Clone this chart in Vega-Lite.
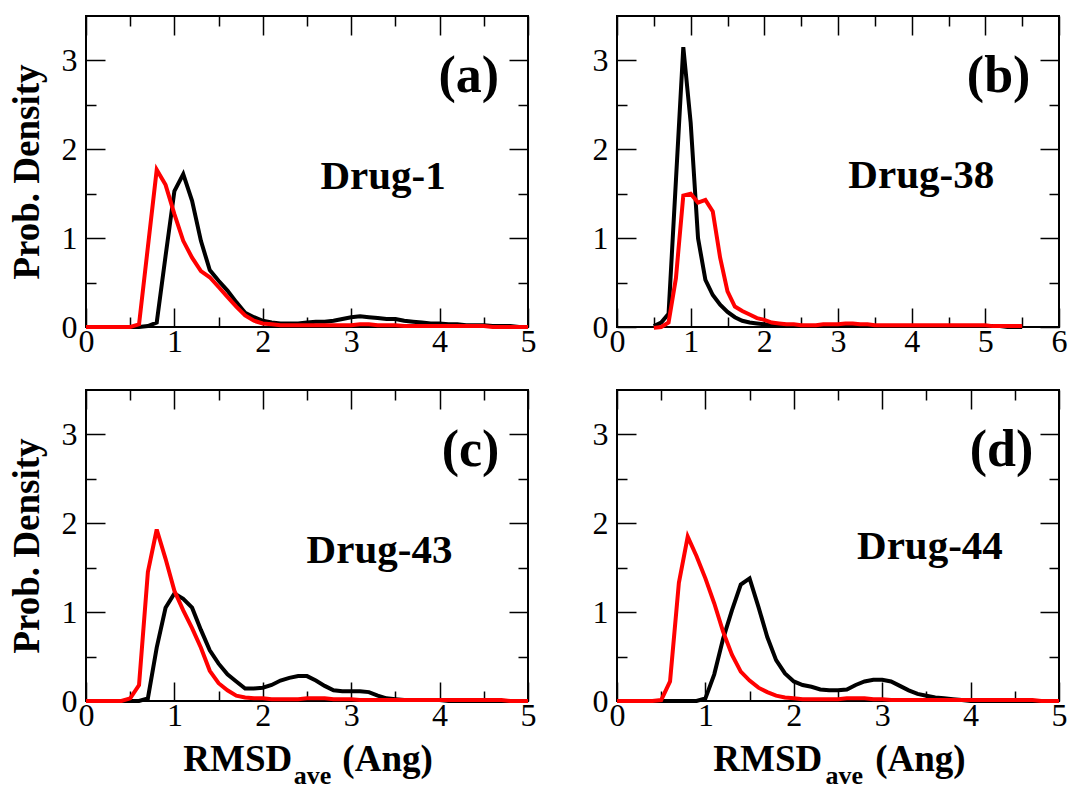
{
  "$schema": "https://vega.github.io/schema/vega-lite/v6.json",
  "padding": {"left": 6, "top": 14, "right": 0, "bottom": 0},
  "background": "white",
  "datasets": {
    "a": [
      {"x":0.0,"black":0,"red":0},{"x":0.1,"black":0,"red":0},{"x":0.2,"black":0,"red":0},{"x":0.3,"black":0,"red":0},{"x":0.4,"black":0,"red":0},{"x":0.5,"black":0,"red":0},
      {"x":0.6,"black":0,"red":0.03},{"x":0.7,"black":0.01,"red":0.9},{"x":0.8,"black":0.05,"red":1.77},{"x":0.9,"black":0.8,"red":1.6},
      {"x":1.0,"black":1.53,"red":1.27},{"x":1.1,"black":1.72,"red":0.97},{"x":1.2,"black":1.42,"red":0.78},{"x":1.3,"black":0.97,"red":0.63},
      {"x":1.4,"black":0.64,"red":0.56},{"x":1.5,"black":0.52,"red":0.45},{"x":1.6,"black":0.41,"red":0.34},{"x":1.7,"black":0.28,"red":0.23},
      {"x":1.8,"black":0.16,"red":0.13},{"x":1.9,"black":0.11,"red":0.07},{"x":2.0,"black":0.07,"red":0.04},{"x":2.1,"black":0.05,"red":0.03},
      {"x":2.2,"black":0.04,"red":0.02},{"x":2.3,"black":0.04,"red":0.02},{"x":2.4,"black":0.04,"red":0.02},{"x":2.5,"black":0.05,"red":0.02},
      {"x":2.6,"black":0.06,"red":0.02},{"x":2.7,"black":0.06,"red":0.02},{"x":2.8,"black":0.07,"red":0.02},{"x":2.9,"black":0.09,"red":0.02},
      {"x":3.0,"black":0.11,"red":0.02},{"x":3.1,"black":0.12,"red":0.03},{"x":3.2,"black":0.11,"red":0.03},{"x":3.3,"black":0.1,"red":0.02},
      {"x":3.4,"black":0.09,"red":0.02},{"x":3.5,"black":0.09,"red":0.02},{"x":3.6,"black":0.07,"red":0.01},{"x":3.7,"black":0.06,"red":0.01},
      {"x":3.8,"black":0.05,"red":0.01},{"x":3.9,"black":0.04,"red":0.01},{"x":4.0,"black":0.04,"red":0.01},{"x":4.1,"black":0.03,"red":0.01},
      {"x":4.2,"black":0.03,"red":0.01},{"x":4.3,"black":0.02,"red":0.01},{"x":4.4,"black":0.02,"red":0.01},{"x":4.5,"black":0.02,"red":0.01},
      {"x":4.6,"black":0.01,"red":0},{"x":4.7,"black":0.01,"red":0},{"x":4.8,"black":0.01,"red":0},{"x":4.9,"black":0,"red":0},{"x":5.0,"black":0,"red":0}
    ],
    "b": [
      {"x":0.5,"black":0.01,"red":-0.01},{"x":0.6,"black":0.05,"red":0},{"x":0.7,"black":0.15,"red":0.05},{"x":0.8,"black":1.65,"red":0.55},
      {"x":0.9,"black":3.15,"red":1.48},{"x":1.0,"black":2.3,"red":1.5},{"x":1.1,"black":1.0,"red":1.4},{"x":1.2,"black":0.53,"red":1.43},
      {"x":1.3,"black":0.36,"red":1.3},{"x":1.4,"black":0.25,"red":0.78},{"x":1.5,"black":0.17,"red":0.4},{"x":1.6,"black":0.11,"red":0.23},
      {"x":1.7,"black":0.07,"red":0.18},{"x":1.8,"black":0.05,"red":0.14},{"x":1.9,"black":0.04,"red":0.1},{"x":2.0,"black":0.03,"red":0.08},
      {"x":2.1,"black":0.02,"red":0.05},{"x":2.2,"black":0.02,"red":0.04},{"x":2.3,"black":0.01,"red":0.03},{"x":2.4,"black":0.01,"red":0.03},
      {"x":2.5,"black":0.01,"red":0.02},{"x":2.6,"black":0.01,"red":0.02},{"x":2.7,"black":0.01,"red":0.02},{"x":2.8,"black":0.01,"red":0.03},
      {"x":2.9,"black":0.01,"red":0.03},{"x":3.0,"black":0.01,"red":0.03},{"x":3.1,"black":0.01,"red":0.04},{"x":3.2,"black":0.01,"red":0.04},
      {"x":3.3,"black":0.01,"red":0.03},{"x":3.4,"black":0.01,"red":0.03},{"x":3.5,"black":0.01,"red":0.02},{"x":3.6,"black":0.01,"red":0.02},
      {"x":3.7,"black":0.01,"red":0.02},{"x":3.8,"black":0.01,"red":0.02},{"x":3.9,"black":0.01,"red":0.02},{"x":4.0,"black":0.01,"red":0.02},
      {"x":4.1,"black":0.01,"red":0.02},{"x":4.2,"black":0.01,"red":0.02},{"x":4.3,"black":0.01,"red":0.02},{"x":4.4,"black":0.01,"red":0.02},
      {"x":4.5,"black":0.01,"red":0.02},{"x":4.6,"black":0.01,"red":0.02},{"x":4.7,"black":0.01,"red":0.02},{"x":4.8,"black":0.01,"red":0.02},
      {"x":4.9,"black":0.01,"red":0.02},{"x":5.0,"black":0.01,"red":0.02},{"x":5.1,"black":0.01,"red":0.01},{"x":5.2,"black":0.01,"red":0.01},
      {"x":5.3,"black":0,"red":0.01},{"x":5.4,"black":0,"red":0.01},{"x":5.5,"black":0,"red":0.01}
    ],
    "c": [
      {"x":0.0,"black":0,"red":0},{"x":0.1,"black":0,"red":0},{"x":0.2,"black":0,"red":0},{"x":0.3,"black":0,"red":0},{"x":0.4,"black":0,"red":0},
      {"x":0.5,"black":0,"red":0.03},{"x":0.6,"black":0,"red":0.18},{"x":0.7,"black":0.03,"red":1.45},{"x":0.8,"black":0.6,"red":1.93},
      {"x":0.9,"black":1.05,"red":1.6},{"x":1.0,"black":1.21,"red":1.24},{"x":1.1,"black":1.15,"red":1.02},{"x":1.2,"black":1.05,"red":0.82},
      {"x":1.3,"black":0.8,"red":0.6},{"x":1.4,"black":0.57,"red":0.34},{"x":1.5,"black":0.42,"red":0.2},{"x":1.6,"black":0.3,"red":0.12},
      {"x":1.7,"black":0.22,"red":0.06},{"x":1.8,"black":0.14,"red":0.04},{"x":1.9,"black":0.14,"red":0.03},{"x":2.0,"black":0.15,"red":0.03},
      {"x":2.1,"black":0.18,"red":0.02},{"x":2.2,"black":0.23,"red":0.02},{"x":2.3,"black":0.26,"red":0.02},{"x":2.4,"black":0.28,"red":0.02},
      {"x":2.5,"black":0.28,"red":0.03},{"x":2.6,"black":0.23,"red":0.03},{"x":2.7,"black":0.17,"red":0.03},{"x":2.8,"black":0.12,"red":0.02},
      {"x":2.9,"black":0.11,"red":0.02},{"x":3.0,"black":0.11,"red":0.02},{"x":3.1,"black":0.11,"red":0.01},{"x":3.2,"black":0.1,"red":0.01},
      {"x":3.3,"black":0.06,"red":0.01},{"x":3.4,"black":0.03,"red":0.01},{"x":3.5,"black":0.02,"red":0.01},{"x":3.6,"black":0.01,"red":0.01},
      {"x":3.7,"black":0.01,"red":0.01},{"x":3.8,"black":0.01,"red":0.01},{"x":3.9,"black":0.01,"red":0.01},{"x":4.0,"black":0.01,"red":0.01},
      {"x":4.1,"black":0,"red":0.01},{"x":4.2,"black":0,"red":0.01},{"x":4.3,"black":0,"red":0.01},{"x":4.4,"black":0,"red":0.01},
      {"x":4.5,"black":0,"red":0.01},{"x":4.6,"black":0,"red":0.01},{"x":4.7,"black":0,"red":0.01},{"x":4.8,"black":0,"red":0},
      {"x":4.9,"black":0,"red":0},{"x":5.0,"black":0,"red":0}
    ],
    "d": [
      {"x":0.0,"black":0,"red":0},{"x":0.1,"black":0,"red":0},{"x":0.2,"black":0,"red":0},{"x":0.3,"black":0,"red":0},{"x":0.4,"black":0,"red":0},
      {"x":0.5,"black":0,"red":0.01},{"x":0.6,"black":0,"red":0.22},{"x":0.7,"black":0,"red":1.33},{"x":0.8,"black":0,"red":1.85},
      {"x":0.9,"black":0,"red":1.63},{"x":1.0,"black":0.03,"red":1.38},{"x":1.1,"black":0.3,"red":1.1},{"x":1.2,"black":0.7,"red":0.78},
      {"x":1.3,"black":1.02,"red":0.52},{"x":1.4,"black":1.31,"red":0.33},{"x":1.5,"black":1.38,"red":0.23},{"x":1.6,"black":1.06,"red":0.15},
      {"x":1.7,"black":0.72,"red":0.1},{"x":1.8,"black":0.46,"red":0.06},{"x":1.9,"black":0.31,"red":0.04},{"x":2.0,"black":0.22,"red":0.03},
      {"x":2.1,"black":0.18,"red":0.02},{"x":2.2,"black":0.16,"red":0.02},{"x":2.3,"black":0.13,"red":0.02},{"x":2.4,"black":0.12,"red":0.02},
      {"x":2.5,"black":0.12,"red":0.02},{"x":2.6,"black":0.13,"red":0.03},{"x":2.7,"black":0.18,"red":0.03},{"x":2.8,"black":0.22,"red":0.03},
      {"x":2.9,"black":0.24,"red":0.02},{"x":3.0,"black":0.24,"red":0.02},{"x":3.1,"black":0.22,"red":0.01},{"x":3.2,"black":0.17,"red":0.01},
      {"x":3.3,"black":0.12,"red":0.01},{"x":3.4,"black":0.08,"red":0.01},{"x":3.5,"black":0.06,"red":0.01},{"x":3.6,"black":0.04,"red":0.01},
      {"x":3.7,"black":0.03,"red":0.01},{"x":3.8,"black":0.02,"red":0.01},{"x":3.9,"black":0.01,"red":0.01},{"x":4.0,"black":0,"red":0.01},
      {"x":4.1,"black":0,"red":0.01},{"x":4.2,"black":0,"red":0.01},{"x":4.3,"black":0,"red":0.01},{"x":4.4,"black":0,"red":0.01},
      {"x":4.5,"black":0,"red":0.01},{"x":4.6,"black":0,"red":0.01},{"x":4.7,"black":0,"red":0.01},{"x":4.8,"black":0,"red":0},
      {"x":4.9,"black":0,"red":0},{"x":5.0,"black":0,"red":0}
    ]
  },
  "columns": 2,
  "spacing": {"row": 63, "column": 89},
  "bounds": "flush",
  "concat": [
    {
      "width": 442, "height": 311,
      "data": {"name": "a"},
      "layer": [
        {"mark": {"type": "line", "color": "black"},
         "encoding": {
           "x": {"field": "x", "type": "quantitative", "scale": {"domain": [0, 5], "nice": false, "zero": false},
                 "axis": {"orient": "bottom", "values": [0,0.5,1,1.5,2,2.5,3,3.5,4,4.5,5], "labelExpr": "datum.value % 1 === 0 ? '' + datum.value : ''", "tickSize": {"condition": {"test": "datum.value % 1 !== 0", "value": -10}, "value": -19}, "labelPadding": 18, "labelFlush": false, "labelOverlap": false, "labelBound": false, "title": null}},
           "y": {"field": "black", "type": "quantitative", "scale": {"domain": [0, 3.5], "nice": false, "zero": false},
                 "axis": {"orient": "left", "values": [0,0.5,1,1.5,2,2.5,3], "labelExpr": "datum.value % 1 === 0 ? '' + datum.value : ''", "tickSize": {"condition": {"test": "datum.value % 1 !== 0", "value": -10}, "value": -19}, "labelPadding": 28, "labelFlush": false, "labelOverlap": false, "labelBound": false, "title": "Prob. Density", "titleX": -40}}
         }},
        {"mark": {"type": "line", "color": "red"},
         "encoding": {
           "x": {"field": "x", "type": "quantitative", "scale": {"domain": [0, 5], "nice": false, "zero": false}, "axis": null},
           "y": {"field": "red", "type": "quantitative", "scale": {"domain": [0, 3.5], "nice": false, "zero": false}, "axis": null}
         }},
        {"mark": {"type": "line", "opacity": 0},
         "encoding": {
           "x": {"field": "x", "type": "quantitative", "scale": {"domain": [0, 5], "nice": false, "zero": false},
                 "axis": {"orient": "top", "values": [0,0.5,1,1.5,2,2.5,3,3.5,4,4.5,5], "labels": false, "tickSize": {"condition": {"test": "datum.value % 1 !== 0", "value": -10}, "value": -19}, "title": null}},
           "y": {"field": "black", "type": "quantitative", "scale": {"domain": [0, 3.5], "nice": false, "zero": false},
                 "axis": {"orient": "right", "values": [0,0.5,1,1.5,2,2.5,3], "labels": false, "tickSize": {"condition": {"test": "datum.value % 1 !== 0", "value": -10}, "value": -19}, "title": null}}
         }},
        {"data": {"values": [{}]},
         "mark": {"type": "text", "fontSize": 52, "align": "center", "baseline": "alphabetic"},
         "encoding": {
           "x": {"datum": 4.33, "type": "quantitative", "scale": {"domain": [0, 5], "nice": false, "zero": false}, "axis": null},
           "y": {"datum": 2.65, "type": "quantitative", "scale": {"domain": [0, 3.5], "nice": false, "zero": false}, "axis": null},
           "text": {"value": "(a)"}
         }},
        {"data": {"values": [{}]},
         "mark": {"type": "text", "fontSize": 41, "align": "center", "baseline": "alphabetic"},
         "encoding": {
           "x": {"datum": 3.36, "type": "quantitative", "scale": {"domain": [0, 5], "nice": false, "zero": false}, "axis": null},
           "y": {"datum": 1.55, "type": "quantitative", "scale": {"domain": [0, 3.5], "nice": false, "zero": false}, "axis": null},
           "text": {"value": "Drug-1"}
         }}
      ],
      "resolve": {"axis": {"x": "independent", "y": "independent"}}
    },
    {
      "width": 442, "height": 311,
      "data": {"name": "b"},
      "layer": [
        {"mark": {"type": "line", "color": "black"},
         "encoding": {
           "x": {"field": "x", "type": "quantitative", "scale": {"domain": [0, 6], "nice": false, "zero": false},
                 "axis": {"orient": "bottom", "values": [0,0.5,1,1.5,2,2.5,3,3.5,4,4.5,5,5.5,6], "labelExpr": "datum.value % 1 === 0 ? '' + datum.value : ''", "tickSize": {"condition": {"test": "datum.value % 1 !== 0", "value": -10}, "value": -19}, "labelPadding": 18, "labelFlush": false, "labelOverlap": false, "labelBound": false, "title": null}},
           "y": {"field": "black", "type": "quantitative", "scale": {"domain": [0, 3.5], "nice": false, "zero": false},
                 "axis": {"orient": "left", "values": [0,0.5,1,1.5,2,2.5,3], "labelExpr": "datum.value % 1 === 0 ? '' + datum.value : ''", "tickSize": {"condition": {"test": "datum.value % 1 !== 0", "value": -10}, "value": -19}, "labelPadding": 28, "labelFlush": false, "labelOverlap": false, "labelBound": false, "title": null}}
         }},
        {"mark": {"type": "line", "color": "red"},
         "encoding": {
           "x": {"field": "x", "type": "quantitative", "scale": {"domain": [0, 6], "nice": false, "zero": false}, "axis": null},
           "y": {"field": "red", "type": "quantitative", "scale": {"domain": [0, 3.5], "nice": false, "zero": false}, "axis": null}
         }},
        {"mark": {"type": "line", "opacity": 0},
         "encoding": {
           "x": {"field": "x", "type": "quantitative", "scale": {"domain": [0, 6], "nice": false, "zero": false},
                 "axis": {"orient": "top", "values": [0,0.5,1,1.5,2,2.5,3,3.5,4,4.5,5,5.5,6], "labels": false, "tickSize": {"condition": {"test": "datum.value % 1 !== 0", "value": -10}, "value": -19}, "title": null}},
           "y": {"field": "black", "type": "quantitative", "scale": {"domain": [0, 3.5], "nice": false, "zero": false},
                 "axis": {"orient": "right", "values": [0,0.5,1,1.5,2,2.5,3], "labels": false, "tickSize": {"condition": {"test": "datum.value % 1 !== 0", "value": -10}, "value": -19}, "title": null}}
         }},
        {"data": {"values": [{}]},
         "mark": {"type": "text", "fontSize": 52, "align": "center", "baseline": "alphabetic"},
         "encoding": {
           "x": {"datum": 5.18, "type": "quantitative", "scale": {"domain": [0, 6], "nice": false, "zero": false}, "axis": null},
           "y": {"datum": 2.65, "type": "quantitative", "scale": {"domain": [0, 3.5], "nice": false, "zero": false}, "axis": null},
           "text": {"value": "(b)"}
         }},
        {"data": {"values": [{}]},
         "mark": {"type": "text", "fontSize": 41, "align": "center", "baseline": "alphabetic"},
         "encoding": {
           "x": {"datum": 4.13, "type": "quantitative", "scale": {"domain": [0, 6], "nice": false, "zero": false}, "axis": null},
           "y": {"datum": 1.56, "type": "quantitative", "scale": {"domain": [0, 3.5], "nice": false, "zero": false}, "axis": null},
           "text": {"value": "Drug-38"}
         }}
      ],
      "resolve": {"axis": {"x": "independent", "y": "independent"}}
    },
    {
      "width": 442, "height": 311,
      "data": {"name": "c"},
      "layer": [
        {"mark": {"type": "line", "color": "black"},
         "encoding": {
           "x": {"field": "x", "type": "quantitative", "scale": {"domain": [0, 5], "nice": false, "zero": false},
                 "axis": {"orient": "bottom", "values": [0,0.5,1,1.5,2,2.5,3,3.5,4,4.5,5], "labelExpr": "datum.value % 1 === 0 ? '' + datum.value : ''", "tickSize": {"condition": {"test": "datum.value % 1 !== 0", "value": -10}, "value": -19}, "labelPadding": 18, "labelFlush": false, "labelOverlap": false, "labelBound": false, "title": null}},
           "y": {"field": "black", "type": "quantitative", "scale": {"domain": [0, 3.5], "nice": false, "zero": false},
                 "axis": {"orient": "left", "values": [0,0.5,1,1.5,2,2.5,3], "labelExpr": "datum.value % 1 === 0 ? '' + datum.value : ''", "tickSize": {"condition": {"test": "datum.value % 1 !== 0", "value": -10}, "value": -19}, "labelPadding": 28, "labelFlush": false, "labelOverlap": false, "labelBound": false, "title": "Prob. Density", "titleX": -40}}
         }},
        {"mark": {"type": "line", "color": "red"},
         "encoding": {
           "x": {"field": "x", "type": "quantitative", "scale": {"domain": [0, 5], "nice": false, "zero": false}, "axis": null},
           "y": {"field": "red", "type": "quantitative", "scale": {"domain": [0, 3.5], "nice": false, "zero": false}, "axis": null}
         }},
        {"mark": {"type": "line", "opacity": 0},
         "encoding": {
           "x": {"field": "x", "type": "quantitative", "scale": {"domain": [0, 5], "nice": false, "zero": false},
                 "axis": {"orient": "top", "values": [0,0.5,1,1.5,2,2.5,3,3.5,4,4.5,5], "labels": false, "tickSize": {"condition": {"test": "datum.value % 1 !== 0", "value": -10}, "value": -19}, "title": null}},
           "y": {"field": "black", "type": "quantitative", "scale": {"domain": [0, 3.5], "nice": false, "zero": false},
                 "axis": {"orient": "right", "values": [0,0.5,1,1.5,2,2.5,3], "labels": false, "tickSize": {"condition": {"test": "datum.value % 1 !== 0", "value": -10}, "value": -19}, "title": null}}
         }},
        {"data": {"values": [{}]},
         "mark": {"type": "text", "fontSize": 52, "align": "center", "baseline": "alphabetic"},
         "encoding": {
           "x": {"datum": 4.35, "type": "quantitative", "scale": {"domain": [0, 5], "nice": false, "zero": false}, "axis": null},
           "y": {"datum": 2.65, "type": "quantitative", "scale": {"domain": [0, 3.5], "nice": false, "zero": false}, "axis": null},
           "text": {"value": "(c)"}
         }},
        {"data": {"values": [{}]},
         "mark": {"type": "text", "fontSize": 41, "align": "center", "baseline": "alphabetic"},
         "encoding": {
           "x": {"datum": 3.32, "type": "quantitative", "scale": {"domain": [0, 5], "nice": false, "zero": false}, "axis": null},
           "y": {"datum": 1.55, "type": "quantitative", "scale": {"domain": [0, 3.5], "nice": false, "zero": false}, "axis": null},
           "text": {"value": "Drug-43"}
         }},
        {"data": {"values": [{}]},
         "mark": {"type": "text", "fontSize": 37, "align": "left", "baseline": "alphabetic"},
         "encoding": {
           "x": {"datum": 1.1, "type": "quantitative", "scale": {"domain": [0, 5], "nice": false, "zero": false}, "axis": null},
           "y": {"datum": -0.79, "type": "quantitative", "scale": {"domain": [0, 3.5], "nice": false, "zero": false}, "axis": null},
           "text": {"value": "RMSD"}
         }},
        {"data": {"values": [{}]},
         "mark": {"type": "text", "fontSize": 26, "align": "left", "baseline": "alphabetic"},
         "encoding": {
           "x": {"datum": 2.35, "type": "quantitative", "scale": {"domain": [0, 5], "nice": false, "zero": false}, "axis": null},
           "y": {"datum": -0.93, "type": "quantitative", "scale": {"domain": [0, 3.5], "nice": false, "zero": false}, "axis": null},
           "text": {"value": "ave"}
         }},
        {"data": {"values": [{}]},
         "mark": {"type": "text", "fontSize": 37, "align": "left", "baseline": "alphabetic"},
         "encoding": {
           "x": {"datum": 2.9, "type": "quantitative", "scale": {"domain": [0, 5], "nice": false, "zero": false}, "axis": null},
           "y": {"datum": -0.79, "type": "quantitative", "scale": {"domain": [0, 3.5], "nice": false, "zero": false}, "axis": null},
           "text": {"value": "(Ang)"}
         }}
      ],
      "resolve": {"axis": {"x": "independent", "y": "independent"}}
    },
    {
      "width": 442, "height": 311,
      "data": {"name": "d"},
      "layer": [
        {"mark": {"type": "line", "color": "black"},
         "encoding": {
           "x": {"field": "x", "type": "quantitative", "scale": {"domain": [0, 5], "nice": false, "zero": false},
                 "axis": {"orient": "bottom", "values": [0,0.5,1,1.5,2,2.5,3,3.5,4,4.5,5], "labelExpr": "datum.value % 1 === 0 ? '' + datum.value : ''", "tickSize": {"condition": {"test": "datum.value % 1 !== 0", "value": -10}, "value": -19}, "labelPadding": 18, "labelFlush": false, "labelOverlap": false, "labelBound": false, "title": null}},
           "y": {"field": "black", "type": "quantitative", "scale": {"domain": [0, 3.5], "nice": false, "zero": false},
                 "axis": {"orient": "left", "values": [0,0.5,1,1.5,2,2.5,3], "labelExpr": "datum.value % 1 === 0 ? '' + datum.value : ''", "tickSize": {"condition": {"test": "datum.value % 1 !== 0", "value": -10}, "value": -19}, "labelPadding": 28, "labelFlush": false, "labelOverlap": false, "labelBound": false, "title": null}}
         }},
        {"mark": {"type": "line", "color": "red"},
         "encoding": {
           "x": {"field": "x", "type": "quantitative", "scale": {"domain": [0, 5], "nice": false, "zero": false}, "axis": null},
           "y": {"field": "red", "type": "quantitative", "scale": {"domain": [0, 3.5], "nice": false, "zero": false}, "axis": null}
         }},
        {"mark": {"type": "line", "opacity": 0},
         "encoding": {
           "x": {"field": "x", "type": "quantitative", "scale": {"domain": [0, 5], "nice": false, "zero": false},
                 "axis": {"orient": "top", "values": [0,0.5,1,1.5,2,2.5,3,3.5,4,4.5,5], "labels": false, "tickSize": {"condition": {"test": "datum.value % 1 !== 0", "value": -10}, "value": -19}, "title": null}},
           "y": {"field": "black", "type": "quantitative", "scale": {"domain": [0, 3.5], "nice": false, "zero": false},
                 "axis": {"orient": "right", "values": [0,0.5,1,1.5,2,2.5,3], "labels": false, "tickSize": {"condition": {"test": "datum.value % 1 !== 0", "value": -10}, "value": -19}, "title": null}}
         }},
        {"data": {"values": [{}]},
         "mark": {"type": "text", "fontSize": 52, "align": "center", "baseline": "alphabetic"},
         "encoding": {
           "x": {"datum": 4.35, "type": "quantitative", "scale": {"domain": [0, 5], "nice": false, "zero": false}, "axis": null},
           "y": {"datum": 2.65, "type": "quantitative", "scale": {"domain": [0, 3.5], "nice": false, "zero": false}, "axis": null},
           "text": {"value": "(d)"}
         }},
        {"data": {"values": [{}]},
         "mark": {"type": "text", "fontSize": 41, "align": "center", "baseline": "alphabetic"},
         "encoding": {
           "x": {"datum": 3.54, "type": "quantitative", "scale": {"domain": [0, 5], "nice": false, "zero": false}, "axis": null},
           "y": {"datum": 1.6, "type": "quantitative", "scale": {"domain": [0, 3.5], "nice": false, "zero": false}, "axis": null},
           "text": {"value": "Drug-44"}
         }},
        {"data": {"values": [{}]},
         "mark": {"type": "text", "fontSize": 37, "align": "left", "baseline": "alphabetic"},
         "encoding": {
           "x": {"datum": 1.09, "type": "quantitative", "scale": {"domain": [0, 5], "nice": false, "zero": false}, "axis": null},
           "y": {"datum": -0.79, "type": "quantitative", "scale": {"domain": [0, 3.5], "nice": false, "zero": false}, "axis": null},
           "text": {"value": "RMSD"}
         }},
        {"data": {"values": [{}]},
         "mark": {"type": "text", "fontSize": 26, "align": "left", "baseline": "alphabetic"},
         "encoding": {
           "x": {"datum": 2.36, "type": "quantitative", "scale": {"domain": [0, 5], "nice": false, "zero": false}, "axis": null},
           "y": {"datum": -0.93, "type": "quantitative", "scale": {"domain": [0, 3.5], "nice": false, "zero": false}, "axis": null},
           "text": {"value": "ave"}
         }},
        {"data": {"values": [{}]},
         "mark": {"type": "text", "fontSize": 37, "align": "left", "baseline": "alphabetic"},
         "encoding": {
           "x": {"datum": 2.92, "type": "quantitative", "scale": {"domain": [0, 5], "nice": false, "zero": false}, "axis": null},
           "y": {"datum": -0.79, "type": "quantitative", "scale": {"domain": [0, 3.5], "nice": false, "zero": false}, "axis": null},
           "text": {"value": "(Ang)"}
         }}
      ],
      "resolve": {"axis": {"x": "independent", "y": "independent"}}
    }
  ],
  "config": {
    "view": {"stroke": "black", "strokeWidth": 2},
    "axis": {"domain": false, "grid": false, "tickColor": "black", "tickWidth": 1.5, "labelFont": "Liberation Serif, Times New Roman, Times, serif", "labelFontSize": 32, "labelColor": "black", "titleFont": "Liberation Serif, Times New Roman, Times, serif", "titleFontSize": 37, "titleFontWeight": "bold", "titleColor": "black"},
    "line": {"strokeWidth": 4, "strokeJoin": "miter"},
    "text": {"font": "Liberation Serif, Times New Roman, Times, serif", "fontWeight": "bold", "color": "black"}
  }
}
